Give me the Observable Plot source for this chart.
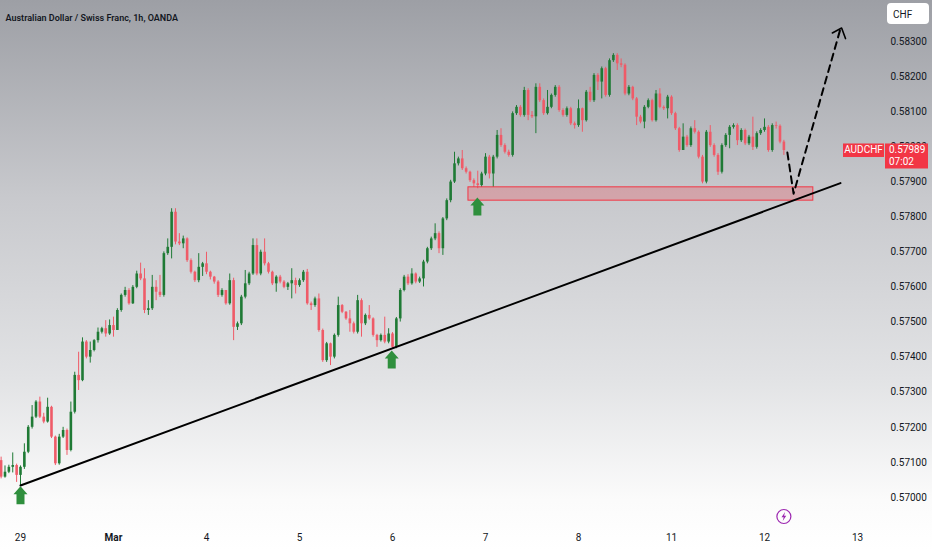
<!DOCTYPE html>
<html lang="en">
<head>
<meta charset="utf-8">
<title>AUDCHF 1h</title>
<script src="https://cdn.jsdelivr.net/npm/d3@7"></script>
<script src="https://cdn.jsdelivr.net/npm/@observablehq/plot@0.6"></script>
<style>
  body { margin: 0; }
  #graphic svg { display: block; }
</style>
</head>
<body>
<div id="graphic"></div>
<script>
  // hourly candles from Feb 28 19:00 to Mar 12 06:00, weekend hours left out
  // t = hours since Feb 29 00:00 on the compressed trading axis
  const firstOpen = 0.57105;
  const closes = [
    0.57058, 0.57072, 0.57086, 0.57091, 0.57063, 0.57086, 0.57129, 0.57200, 0.57229, 0.57272,
    0.57229, 0.57215, 0.57257, 0.57172, 0.57096, 0.57172, 0.57191, 0.57134, 0.57243, 0.57348,
    0.57333, 0.57443, 0.57400, 0.57419, 0.57447, 0.57471, 0.57481, 0.57466, 0.57490, 0.57476,
    0.57533, 0.57576, 0.57590, 0.57552, 0.57599, 0.57637, 0.57623, 0.57533, 0.57538, 0.57599,
    0.57585, 0.57576, 0.57695, 0.57713, 0.57813, 0.57728, 0.57723, 0.57737, 0.57675, 0.57642,
    0.57618, 0.57656, 0.57666, 0.57642, 0.57628, 0.57614, 0.57576, 0.57590, 0.57552, 0.57618,
    0.57485, 0.57495, 0.57571, 0.57609, 0.57637, 0.57718, 0.57637, 0.57699, 0.57666, 0.57642,
    0.57609, 0.57628, 0.57614, 0.57599, 0.57609, 0.57618, 0.57604, 0.57618, 0.57642, 0.57552,
    0.57547, 0.57566, 0.57476, 0.57390, 0.57438, 0.57400, 0.57462, 0.57547, 0.57528, 0.57509,
    0.57495, 0.57471, 0.57561, 0.57495, 0.57519, 0.57509, 0.57462, 0.57447, 0.57462, 0.57443,
    0.57466, 0.57428, 0.57509, 0.57590, 0.57628, 0.57609, 0.57637, 0.57614, 0.57623, 0.57671,
    0.57709, 0.57737, 0.57752, 0.57709, 0.57794, 0.57846, 0.57899, 0.57951, 0.57965, 0.57937,
    0.57927, 0.57903, 0.57894, 0.57889, 0.57922, 0.57970, 0.57922, 0.57970, 0.58032, 0.58003,
    0.57984, 0.57975, 0.58094, 0.58112, 0.58089, 0.58160, 0.58089, 0.58085, 0.58169, 0.58131,
    0.58094, 0.58112, 0.58146, 0.58169, 0.58103, 0.58089, 0.58108, 0.58065, 0.58060, 0.58108,
    0.58074, 0.58155, 0.58131, 0.58203, 0.58184, 0.58222, 0.58146, 0.58245, 0.58260, 0.58236,
    0.58232, 0.58150, 0.58169, 0.58136, 0.58084, 0.58070, 0.58112, 0.58131, 0.58074, 0.58150,
    0.58112, 0.58108, 0.58141, 0.58094, 0.58051, 0.57989, 0.58027, 0.58003, 0.58051, 0.58041,
    0.57970, 0.57899, 0.58041, 0.58003, 0.57975, 0.57927, 0.58003, 0.58032, 0.58055, 0.58060,
    0.58017, 0.58046, 0.58008, 0.58027, 0.57998, 0.58037, 0.58046, 0.58055, 0.57989, 0.58060,
    0.58058, 0.58013, 0.57989
  ];
  const highs = [
    0.57115, 0.57090, 0.57092, 0.57127, 0.57095, 0.57090, 0.57153, 0.57205, 0.57262, 0.57276,
    0.57286, 0.57240, 0.57283, 0.57260, 0.57175, 0.57180, 0.57200, 0.57195, 0.57272, 0.57357,
    0.57414, 0.57455, 0.57447, 0.57443, 0.57450, 0.57483, 0.57485, 0.57504, 0.57506, 0.57514,
    0.57538, 0.57580, 0.57599, 0.57595, 0.57604, 0.57645, 0.57668, 0.57652, 0.57561, 0.57633,
    0.57618, 0.57633, 0.57700, 0.57737, 0.57823, 0.57823, 0.57752, 0.57745, 0.57740, 0.57680,
    0.57645, 0.57695, 0.57670, 0.57699, 0.57645, 0.57630, 0.57618, 0.57595, 0.57590, 0.57637,
    0.57625, 0.57500, 0.57576, 0.57647, 0.57642, 0.57737, 0.57737, 0.57705, 0.57737, 0.57670,
    0.57645, 0.57632, 0.57633, 0.57618, 0.57613, 0.57652, 0.57625, 0.57623, 0.57647, 0.57650,
    0.57557, 0.57571, 0.57580, 0.57480, 0.57442, 0.57440, 0.57466, 0.57571, 0.57550, 0.57530,
    0.57533, 0.57500, 0.57576, 0.57566, 0.57523, 0.57547, 0.57512, 0.57465, 0.57466, 0.57514,
    0.57481, 0.57470, 0.57513, 0.57595, 0.57633, 0.57635, 0.57652, 0.57640, 0.57628, 0.57676,
    0.57713, 0.57742, 0.57780, 0.57757, 0.57798, 0.57851, 0.57904, 0.57984, 0.57970, 0.57989,
    0.57942, 0.57930, 0.57908, 0.57930, 0.57927, 0.57980, 0.57975, 0.57975, 0.58046, 0.58051,
    0.58008, 0.57990, 0.58099, 0.58117, 0.58117, 0.58169, 0.58165, 0.58100, 0.58179, 0.58179,
    0.58136, 0.58160, 0.58150, 0.58174, 0.58174, 0.58108, 0.58113, 0.58112, 0.58070, 0.58133,
    0.58110, 0.58160, 0.58169, 0.58208, 0.58208, 0.58227, 0.58226, 0.58250, 0.58265, 0.58265,
    0.58250, 0.58236, 0.58174, 0.58172, 0.58140, 0.58089, 0.58117, 0.58136, 0.58135, 0.58160,
    0.58165, 0.58116, 0.58146, 0.58145, 0.58098, 0.58055, 0.58065, 0.58032, 0.58056, 0.58074,
    0.58045, 0.57975, 0.58046, 0.58060, 0.58008, 0.57980, 0.58008, 0.58037, 0.58060, 0.58065,
    0.58065, 0.58051, 0.58050, 0.58032, 0.58084, 0.58042, 0.58051, 0.58079, 0.58060, 0.58065,
    0.58070, 0.58062, 0.58018
  ];
  const lows = [
    0.57053, 0.57055, 0.57068, 0.57070, 0.57043, 0.57034, 0.57080, 0.57125, 0.57195, 0.57225,
    0.57225, 0.57210, 0.57212, 0.57168, 0.57091, 0.57092, 0.57168, 0.57120, 0.57130, 0.57238,
    0.57305, 0.57330, 0.57395, 0.57383, 0.57415, 0.57440, 0.57466, 0.57457, 0.57462, 0.57457,
    0.57476, 0.57528, 0.57571, 0.57548, 0.57550, 0.57595, 0.57618, 0.57524, 0.57519, 0.57533,
    0.57561, 0.57570, 0.57571, 0.57690, 0.57680, 0.57720, 0.57718, 0.57709, 0.57670, 0.57637,
    0.57613, 0.57612, 0.57630, 0.57635, 0.57620, 0.57608, 0.57570, 0.57571, 0.57548, 0.57548,
    0.57447, 0.57476, 0.57490, 0.57566, 0.57604, 0.57633, 0.57632, 0.57632, 0.57660, 0.57637,
    0.57604, 0.57585, 0.57609, 0.57595, 0.57590, 0.57566, 0.57580, 0.57599, 0.57613, 0.57548,
    0.57533, 0.57542, 0.57471, 0.57385, 0.57385, 0.57376, 0.57395, 0.57457, 0.57524, 0.57505,
    0.57471, 0.57466, 0.57466, 0.57457, 0.57490, 0.57505, 0.57457, 0.57428, 0.57443, 0.57438,
    0.57438, 0.57424, 0.57424, 0.57500, 0.57586, 0.57604, 0.57605, 0.57609, 0.57610, 0.57600,
    0.57666, 0.57704, 0.57732, 0.57695, 0.57690, 0.57789, 0.57840, 0.57895, 0.57945, 0.57932,
    0.57922, 0.57898, 0.57884, 0.57880, 0.57884, 0.57917, 0.57908, 0.57884, 0.57965, 0.57998,
    0.57979, 0.57970, 0.57970, 0.58089, 0.58084, 0.58084, 0.58074, 0.58080, 0.58037, 0.58126,
    0.58089, 0.58090, 0.58108, 0.58141, 0.58098, 0.58084, 0.58084, 0.58060, 0.58050, 0.58055,
    0.58041, 0.58070, 0.58126, 0.58126, 0.58160, 0.58136, 0.58141, 0.58141, 0.58240, 0.58217,
    0.58225, 0.58145, 0.58145, 0.58131, 0.58060, 0.58065, 0.58051, 0.58108, 0.58070, 0.58070,
    0.58108, 0.58103, 0.58079, 0.58089, 0.58046, 0.57984, 0.57990, 0.57998, 0.57998, 0.58036,
    0.57965, 0.57894, 0.57894, 0.57998, 0.57970, 0.57918, 0.57922, 0.57998, 0.57994, 0.58050,
    0.58003, 0.58012, 0.58003, 0.58003, 0.57989, 0.57993, 0.58032, 0.58041, 0.57984, 0.57984,
    0.58050, 0.58008, 0.57975
  ];

  const dayTicks = [0, 24, 48, 72, 96, 120, 144, 168, 192, 216];
  const dayLabels = ["29", "Mar", "4", "5", "6", "7", "8", "11", "12", "13"];
  const priceTicks = [0.570, 0.571, 0.572, 0.573, 0.574, 0.575, 0.576, 0.577, 0.578, 0.579, 0.580, 0.581, 0.582, 0.583];

  // drawings on the chart
  const trend = [{t: 0, p: 0.57034}, {t: 211.6, p: 0.57896}];
  const zone = [{t1: 115.6, t2: 204.6, lo: 0.57846, hi: 0.57884}];
  const arrows = [{t: 0, p: 0.57032}, {t: 95.8, p: 0.57419}, {t: 117.9, p: 0.57855}];
  const projection = [{t: 197.9, p: 0.57983}, {t: 199.5, p: 0.57866}, {t: 211.6, p: 0.58336}];
  const projHead = [{t: 209.5, p: 0.58324}, {t: 211.9, p: 0.58338}, {t: 212.9, p: 0.58308}];

  const symbol = "AUDCHF";
  const lastPrice = 0.57989;
  const countdown = "07:02";

  const green = "#1f7a35", red = "#ef5b68";

  const candles = closes.map((c, i) => ({
    t: i - 5,
    open: i === 0 ? firstOpen : closes[i - 1],
    close: c,
    high: highs[i],
    low: lows[i]
  }));
  const col = d => d.close >= d.open ? green : red;

  const arrowUp = {
    draw(ctx) {
      ctx.moveTo(0, 0); ctx.lineTo(7, 8); ctx.lineTo(4, 8); ctx.lineTo(4, 18);
      ctx.lineTo(-4, 18); ctx.lineTo(-4, 8); ctx.lineTo(-7, 8); ctx.closePath();
    }
  };
  const bolt = {
    draw(ctx) {
      ctx.moveTo(1.2, -4.5); ctx.lineTo(-2.4, 0.8); ctx.lineTo(-0.2, 0.8); ctx.lineTo(-1.2, 4.5);
      ctx.lineTo(2.4, -0.8); ctx.lineTo(0.2, -0.8); ctx.closePath();
    }
  };

  // price tag and currency button on the right axis
  function chrome(index, scales, values, dim) {
    const g = d3.create("svg:g")
      .attr("font-family", "Roboto, sans-serif")
      .attr("font-size", 10)
      .attr("text-anchor", "start");
    const x0 = dim.width - dim.marginRight;
    const y = scales.y(lastPrice);
    g.append("rect").attr("x", x0 + 8).attr("y", y - 6.5).attr("width", 41).attr("height", 13.5)
      .attr("fill", "#f23645");
    g.append("text").attr("x", x0 + 28.5).attr("y", y).attr("dy", "0.35em").attr("text-anchor", "middle")
      .attr("fill", "white").text(symbol);
    g.append("rect").attr("x", x0 + 50).attr("y", y - 6.5).attr("width", 43).attr("height", 25)
      .attr("fill", "#f23645");
    g.append("text").attr("x", x0 + 54).attr("y", y).attr("dy", "0.35em").attr("fill", "white")
      .text(d3.format(".5f")(lastPrice));
    g.append("text").attr("x", x0 + 54).attr("y", y + 12).attr("dy", "0.35em").attr("fill", "white")
      .text(countdown);
    g.append("rect").attr("x", x0 + 52).attr("y", 3).attr("width", 42).attr("height", 21).attr("rx", 4)
      .attr("fill", "white");
    g.append("text").attr("x", x0 + 58).attr("y", 14).attr("dy", "0.35em").attr("fill", "#131722").text("CHF");
    return g.node();
  }

  const options = {
    width: 932,
    height: 550,
    marginLeft: 0, marginRight: 97, marginTop: 0, marginBottom: 30,
    style: {
      fontFamily: "Roboto, sans-serif",
      fontSize: "10px",
      color: "#131722",
      background: "linear-gradient(to bottom, #9d9fa5 0%, #c8c9cd 36%, #e2e3e5 69%, #fbfbfb 91%, #ffffff 100%)"
    },
    x: {domain: [-5.16, 210.32], axis: null},
    y: {domain: [0.569344, 0.584165], axis: null},
    marks: [
      Plot.axisY(priceTicks, {anchor: "right", tickSize: 0, tickPadding: 55, tickFormat: d3.format(".5f"), fontSize: 10, fill: "#131722"}),
      Plot.text(dayTicks.filter((d, i) => dayLabels[i] !== "Mar"), {
        x: d => d, text: d => dayLabels[dayTicks.indexOf(d)], frameAnchor: "bottom", dy: 20, fontSize: 10, fill: "#131722"
      }),
      Plot.text(dayTicks.filter((d, i) => dayLabels[i] === "Mar"), {
        x: d => d, text: () => "Mar", frameAnchor: "bottom", dy: 20, fontSize: 10, fontWeight: "bold", fill: "#131722"
      }),
      Plot.ruleX(candles, {x: "t", y1: "low", y2: "high", stroke: col, strokeWidth: 1}),
      Plot.ruleX(candles, {x: "t", y1: "open", y2: "close", stroke: col, strokeWidth: 2.6}),
      Plot.rect(zone, {x1: "t1", x2: "t2", y1: "lo", y2: "hi", fill: "#f23645", fillOpacity: 0.25, stroke: "#f23645", strokeWidth: 1}),
      Plot.line(trend, {x: "t", y: "p", stroke: "black", strokeWidth: 2}),
      Plot.line(projection, {x: "t", y: "p", stroke: "black", strokeWidth: 2, strokeDasharray: "7 5"}),
      Plot.line(projHead, {x: "t", y: "p", stroke: "black", strokeWidth: 1.6}),
      Plot.dot(arrows, {x: "t", y: "p", symbol: arrowUp, fill: "#2f8f3d", stroke: null}),
      Plot.dot([candles[candles.length - 1].t], {x: d => d, frameAnchor: "bottom", dy: -4, r: 7, stroke: "#9c27b0", strokeWidth: 1.2, fill: "none"}),
      Plot.dot([candles[candles.length - 1].t], {x: d => d, frameAnchor: "bottom", dy: -4, symbol: bolt, fill: "#9c27b0", stroke: null}),
      Plot.text(["Australian Dollar / Swiss Franc, 1h, OANDA"], {
        frameAnchor: "top-left", dx: 5, dy: 14, textAnchor: "start", fontSize: 9, fontWeight: 600, fill: "#131722"
      }),
      chrome
    ]
  };
  document.getElementById('graphic').appendChild(Plot.plot(options));
</script>
</body>
</html>
